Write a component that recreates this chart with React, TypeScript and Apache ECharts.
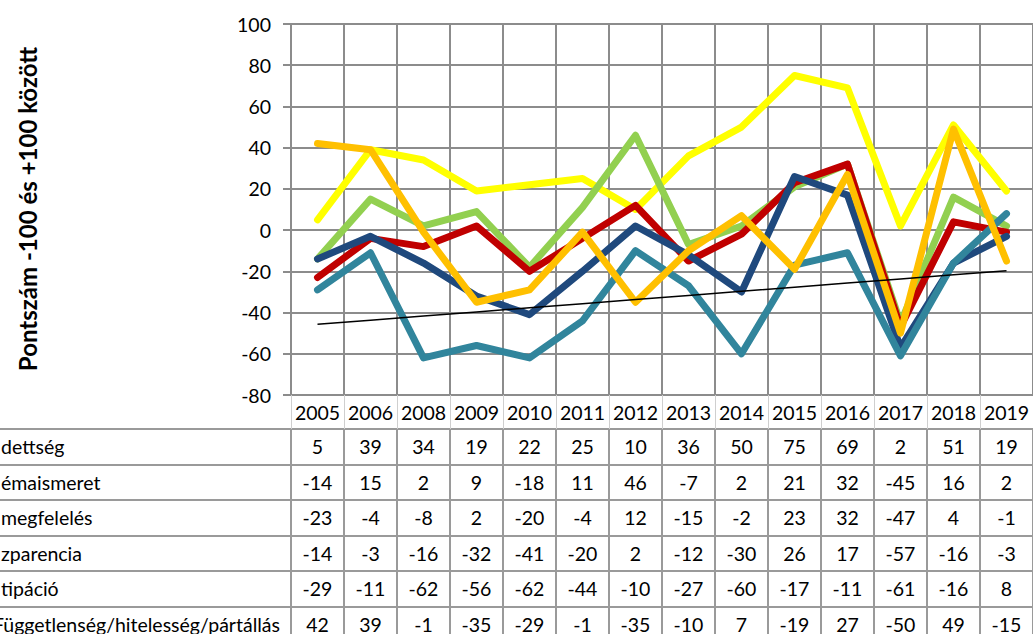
import React, { useEffect, useRef } from "react";
import * as echarts from "echarts";

const years = ["2005", "2006", "2008", "2009", "2010", "2011", "2012", "2013", "2014", "2015", "2016", "2017", "2018", "2019"];

const rowLabels = [
  "dettség",
  "émaismeret",
  "megfelelés",
  "zparencia",
  "tipáció",
  "Függetlenség/hitelesség/pártállás",
];

const elkotelezettseg = [5, 39, 34, 19, 22, 25, 10, 36, 50, 75, 69, 2, 51, 19];
const temaismeret = [-14, 15, 2, 9, -18, 11, 46, -7, 2, 21, 32, -45, 16, 2];
const megfeleles = [-23, -4, -8, 2, -20, -4, 12, -15, -2, 23, 32, -47, 4, -1];
const transzparencia = [-14, -3, -16, -32, -41, -20, 2, -12, -30, 26, 17, -57, -16, -3];
const participacio = [-29, -11, -62, -56, -62, -44, -10, -27, -60, -17, -11, -61, -16, 8];
const fuggetlenseg = [42, 39, -1, -35, -29, -1, -35, -10, 7, -19, 27, -50, 49, -15];

const yTicks = { min: -80, max: 100, interval: 20 };

const allSeries = [elkotelezettseg, temaismeret, megfeleles, transzparencia, participacio, fuggetlenseg];
const colors = ["#FFFF00", "#92D050", "#C00000", "#1F497D", "#31859C", "#FFC000"];

// linear trendline of the Participáció series (as Excel does)
function linearTrend(vals: number[]): number[] {
  const n = vals.length;
  const xs = vals.map((_, i) => i + 1);
  const mx = xs.reduce((a, b) => a + b, 0) / n;
  const my = vals.reduce((a, b) => a + b, 0) / n;
  let sxy = 0;
  let sxx = 0;
  for (let i = 0; i < n; i++) {
    sxy += (xs[i] - mx) * (vals[i] - my);
    sxx += (xs[i] - mx) * (xs[i] - mx);
  }
  const b = sxy / sxx;
  const a = my - b * mx;
  return xs.map((x) => a + b * x);
}

const FONT = "Lato";
const FS = 19.5;
const GRID_LEFT = 291;
const GRID_TOP = 24;
const GRID_H = 371;
const PLOT_BOTTOM = GRID_TOP + GRID_H; // 395
const ROW_TOPS = [429, 465, 500, 536, 571, 607];
const ROW_H = 36;

export default function App() {
  const ref = useRef<HTMLDivElement>(null);

  useEffect(() => {
    if (!ref.current) return;
    const chart = echarts.init(ref.current, undefined, { renderer: "svg" });

    const tableAxes = allSeries.map((vals, k) => ({
      type: "category",
      data: years,
      gridIndex: 0,
      position: "bottom",
      offset: ROW_TOPS[k] - PLOT_BOTTOM,
      boundaryGap: true,
      axisLine: { show: true, onZero: false, lineStyle: { color: "#9a9a9a", width: 2 } },
      axisTick: { show: true, interval: 0, length: ROW_H, lineStyle: { color: "#9a9a9a", width: 2 } },
      axisLabel: {
        interval: 0,
        margin: 7,
        color: "#000",
        fontFamily: FONT,
        fontSize: FS,
        lineHeight: 20,
        formatter: (_v: string, i: number) => String(vals[i]),
      },
      splitLine: { show: false },
    }));

    const option: any = {
      animation: false,
      backgroundColor: "#ffffff",
      grid: {
        left: GRID_LEFT,
        top: GRID_TOP,
        right: 0,
        height: GRID_H,
        containLabel: false,
        outerBoundsMode: "none",
      },
      xAxis: [
        {
          type: "category",
          data: years,
          position: "bottom",
          boundaryGap: true,
          axisLine: { show: false, onZero: false },
          axisTick: { show: true, interval: 0, length: 34, lineStyle: { color: "#cfcfcf", width: 1 } },
          axisLabel: {
            interval: 0,
            margin: 7,
            color: "#000",
            fontFamily: FONT,
            fontSize: FS,
            lineHeight: 20,
          },
          splitLine: { show: true, interval: 0, lineStyle: { color: "#8c8c8c", width: 2 } },
        },
        ...tableAxes,
      ],
      yAxis: {
        type: "value",
        min: yTicks.min,
        max: yTicks.max,
        interval: yTicks.interval,
        axisLine: { show: true, lineStyle: { color: "#8c8c8c", width: 2 } },
        axisTick: { show: true, length: 8, lineStyle: { color: "#8c8c8c", width: 2 } },
        axisLabel: { margin: 20, color: "#000", fontFamily: FONT, fontSize: FS },
        splitLine: { show: true, lineStyle: { color: "#8c8c8c", width: 2 } },
      },
      series: [
        ...allSeries.map((vals, k) => ({
          name: rowLabels[k],
          type: "line",
          data: vals,
          xAxisIndex: 0,
          yAxisIndex: 0,
          symbol: "none",
          lineStyle: { color: colors[k], width: 7, join: "round", cap: "round" },
          itemStyle: { color: colors[k] },
          z: 3 + k,
        })),
        {
          name: "trend",
          type: "line",
          data: linearTrend(participacio),
          symbol: "none",
          lineStyle: { color: "#000000", width: 1.5 },
          z: 20,
        },
      ],
      graphic: [
        {
          type: "text",
          x: 27,
          y: 209,
          rotation: Math.PI / 2,
          style: {
            text: "Pontszám -100 és +100 között",
            font: `bold 24px ${FONT}`,
            fill: "#000",
            align: "center",
            verticalAlign: "middle",
          },
        },
        ...ROW_TOPS.map((t) => ({
          type: "line",
          shape: { x1: 0, y1: t, x2: GRID_LEFT, y2: t },
          style: { stroke: "#9a9a9a", lineWidth: 2 },
        })),
        ...rowLabels.map((lab, k) => ({
          type: "text",
          x: k === 5 ? -7 : 1,
          y: ROW_TOPS[k] + ROW_H / 2 - 1,
          style: {
            text: lab,
            font: `${FS}px ${FONT}`,
            fill: "#000",
            align: "left",
            verticalAlign: "middle",
          },
        })),
      ],
    };

    chart.setOption(option);
    return () => chart.dispose();
  }, []);

  return (
    <div
      ref={ref}
      style={{ position: "absolute", left: 0, top: 0, width: 1033, height: 634, background: "#fff" }}
    />
  );
}
